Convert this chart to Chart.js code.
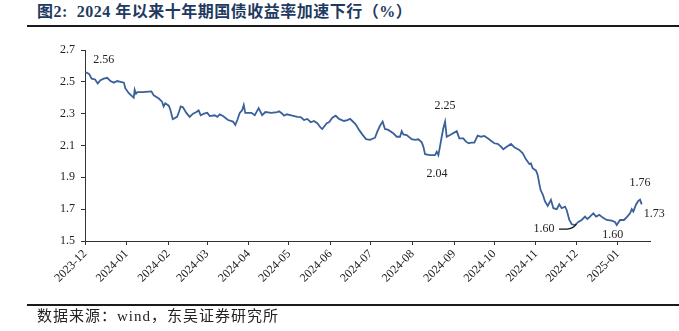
<!DOCTYPE html>
<html>
<head>
<meta charset="utf-8">
<script src="https://cdn.jsdelivr.net/npm/chart.js@4/dist/chart.umd.min.js"></script>
<style>
  html, body { margin: 0; padding: 0; background: #fff; }
  #wrap { position: relative; width: 679px; height: 331px; overflow: hidden; }
  #chart { position: absolute; left: 0; top: 0; }
  .title {
    position: absolute; left: 37px; top: 2px;
    font: bold 16px/20px 'Liberation Serif', 'Noto Sans CJK SC', serif;
    letter-spacing: 0.5px;
    color: #1f3a60; white-space: nowrap;
  }
  .rule { position: absolute; left: 27px; right: 0; height: 2px; background: #1a1a1a; }
  .source {
    position: absolute; left: 37px; top: 307px;
    font: 15px/18px 'Liberation Serif', 'Noto Sans CJK SC', serif;
    letter-spacing: 1px;
    color: #222; white-space: nowrap;
  }
</style>
</head>
<body>
<div id="wrap">
  <div class="title">图2:&nbsp; 2024 年以来十年期国债收益率加速下行（%）</div>
  <div class="rule" style="top:25px"></div>
  <canvas id="chart" width="679" height="331"></canvas>
  <div class="rule" style="top:304px"></div>
  <div class="source">数据来源：wind，东吴证券研究所</div>
</div>
<script>
// 10Y government bond yield (%), x = days counted from 2023-12-01
const days = [
  0.5, 3, 5, 7.5, 9.5, 11.5, 14, 16.5, 19, 21.5, 24, 26.5, 29, 30, 32.5, 35, 36.3, 37, 38, 39,
  43, 49.5, 51.2, 55, 57.4, 58.6, 59.8, 62.4, 63.6, 65.4, 68.6, 70, 71.3, 73, 75.5, 78, 80.5, 83, 84.7, 86.2,
  88.7, 91.1, 93, 96.6, 98.6, 100.4, 102.8, 106.6, 110.3, 112, 113.5, 115.3, 117, 118.3, 119.4, 124, 126.5, 129.4, 132, 134.4,
  138.8, 143.3, 144.6, 147, 148.3, 150.3, 154.5, 158.2, 160.7, 163.2, 165.6, 168.2, 170.6, 173.1, 175.6, 176.8, 178.1, 180.1, 181.8, 184.3,
  186.8, 189.3, 193, 195.5, 197.5, 199.2, 201.7, 204.2, 206.6, 209.4, 212.4, 216.1, 217.8, 219.8, 221.8, 223.5, 226, 229.7, 232.3, 234.7,
  236, 237.2, 239.7, 243.4, 245.9, 248.4, 250.9, 252.1, 253.4, 257.1, 260.8, 262.1, 263.3, 264.5, 265.8, 267, 268.3, 269.5, 272, 277,
  278.9, 281.9, 283.9, 285.9, 287.6, 290.1, 292.6, 295.1, 297.5, 300.1, 302.5, 305, 307.5, 310, 311.7, 313.7, 317.4, 319.9, 323.6, 326.2,
  328.6, 331.1, 332.3, 333.6, 336.1, 337.3, 338.5, 339.5, 341.2, 342.7, 344.8, 347.2, 349, 351.5, 353.4, 355.2, 357.7, 358.9, 360.9, 362.7,
  365.1, 367.6, 370.1, 372.6, 374.3, 376.3, 378.8, 380.8, 383.2, 385.8, 388.7, 392.5, 394.9, 396.2, 398.7, 401.6, 404.1, 406.1, 407.4, 408.6,
  410.6, 412.3, 413.6, 414.8
];
const yields = [
  2.56, 2.55, 2.52, 2.515, 2.49, 2.51, 2.52, 2.525, 2.505, 2.495, 2.505, 2.50, 2.495, 2.46, 2.43, 2.41, 2.40, 2.45, 2.425, 2.435,
  2.435, 2.44, 2.415, 2.395, 2.375, 2.345, 2.365, 2.35, 2.325, 2.265, 2.28, 2.31, 2.345, 2.34, 2.305, 2.28, 2.30, 2.31, 2.32, 2.29,
  2.30, 2.305, 2.285, 2.29, 2.28, 2.295, 2.285, 2.26, 2.25, 2.23, 2.26, 2.305, 2.32, 2.355, 2.305, 2.305, 2.29, 2.335, 2.29, 2.31,
  2.305, 2.31, 2.315, 2.30, 2.287, 2.296, 2.287, 2.28, 2.278, 2.26, 2.267, 2.246, 2.254, 2.24, 2.212, 2.204, 2.218, 2.24, 2.246, 2.275,
  2.287, 2.267, 2.254, 2.26, 2.267, 2.254, 2.233, 2.198, 2.17, 2.14, 2.135, 2.149, 2.187, 2.224, 2.25, 2.204, 2.198, 2.177, 2.155, 2.155,
  2.19, 2.17, 2.166, 2.14, 2.135, 2.139, 2.12, 2.093, 2.045, 2.04, 2.04, 2.061, 2.04, 2.093, 2.155, 2.208, 2.25, 2.155, 2.166, 2.19,
  2.145, 2.145, 2.124, 2.114, 2.118, 2.118, 2.162, 2.155, 2.16, 2.145, 2.13, 2.114, 2.11, 2.093, 2.076, 2.089, 2.11, 2.089, 2.072, 2.051,
  2.013, 1.984, 1.988, 1.957, 1.942, 1.915, 1.86, 1.82, 1.79, 1.75, 1.72, 1.758, 1.706, 1.70, 1.73, 1.706, 1.716, 1.695, 1.632, 1.605,
  1.60, 1.62, 1.632, 1.653, 1.638, 1.653, 1.674, 1.653, 1.664, 1.647, 1.632, 1.628, 1.62, 1.60, 1.632, 1.632, 1.653, 1.674, 1.70, 1.685,
  1.73, 1.752, 1.76, 1.73
];

// month ticks on the date axis
const monthDays = [0, 31, 62, 91, 122, 152, 183, 213, 244, 275, 305, 336, 366, 397];
const monthLabels = ['2023-12', '2024-01', '2024-02', '2024-03', '2024-04', '2024-05', '2024-06',
  '2024-07', '2024-08', '2024-09', '2024-10', '2024-11', '2024-12', '2025-01'];
const yTicks = [1.5, 1.7, 1.9, 2.1, 2.3, 2.5, 2.7];

// points that get a value callout
const calloutDays = [0.5, 268.3, 257.1, 365.1, 396.2, 413.6, 414.8];

const serif = "'Liberation Serif', 'Times New Roman', serif";
const axisColor = '#333';

// label placement relative to its point: [dx, dy, align]
const calloutPlace = [
  [18, -12, 'center'],
  [0, -16, 'center'],
  [7, 19, 'center'],
  [-31, 4, 'center'],
  [-4, 10, 'center'],
  [0, -17, 'center'],
  [2, 9, 'left']
];

const calloutPlugin = {
  id: 'callouts',
  afterDatasetsDraw(chart) {
    const { ctx, scales } = chart;
    ctx.save();
    ctx.font = '12px ' + serif;
    ctx.fillStyle = '#222';
    ctx.textBaseline = 'middle';
    calloutDays.forEach((d, k) => {
      const i = days.indexOf(d);
      const px = scales.x.getPixelForValue(d);
      const py = scales.y.getPixelForValue(yields[i]);
      const [dx, dy, align] = calloutPlace[k];
      ctx.textAlign = align;
      ctx.fillText(yields[i].toFixed(2), px + dx, py + dy);
      if (k === 3) {
        // leader from the left "1.60" label to the December low
        ctx.beginPath();
        ctx.strokeStyle = '#111';
        ctx.lineWidth = 1.2;
        ctx.moveTo(px + dx + 15, py + dy);
        ctx.lineTo(px - 8, py + dy);
        ctx.quadraticCurveTo(px - 2, py + dy - 0.5, px + 1.5, py - 1);
        ctx.stroke();
      }
    });
    ctx.restore();
  }
};

new Chart(document.getElementById('chart'), {
  type: 'line',
  data: {
    datasets: [{
      data: days.map((d, i) => ({ x: d, y: yields[i] })),
      borderColor: '#3a6199',
      borderWidth: 1.8,
      pointRadius: 0,
      tension: 0,
      fill: false
    }]
  },
  options: {
    responsive: false,
    animation: false,
    devicePixelRatio: 1,
    layout: { padding: { top: 50, right: 29, left: 0, bottom: 0 } },
    plugins: { legend: { display: false }, tooltip: { enabled: false } },
    scales: {
      x: {
        type: 'linear',
        min: 0,
        max: 421,
        afterBuildTicks: (scale) => { scale.ticks = monthDays.map(v => ({ value: v })); },
        afterFit: (scale) => { scale.height = 90; },
        border: { display: true, color: axisColor, width: 1 },
        grid: { display: true, drawOnChartArea: false, drawTicks: true, tickLength: 4, color: axisColor },
        ticks: {
          autoSkip: false,
          maxRotation: 45,
          minRotation: 45,
          padding: 2,
          color: '#222',
          font: { family: serif, size: 12 },
          callback: (v, i) => monthLabels[i]
        }
      },
      y: {
        min: 1.5,
        max: 2.7,
        afterBuildTicks: (scale) => { scale.ticks = yTicks.map(v => ({ value: v })); },
        afterFit: (scale) => { scale.width = 85; },
        border: { display: true, color: axisColor, width: 1 },
        grid: { display: true, drawOnChartArea: false, drawTicks: true, tickLength: 4, color: axisColor },
        ticks: {
          padding: 6,
          color: '#222',
          font: { family: serif, size: 12 },
          callback: (v) => v.toFixed(1)
        }
      }
    }
  },
  plugins: [calloutPlugin]
});
</script>
</body>
</html>
